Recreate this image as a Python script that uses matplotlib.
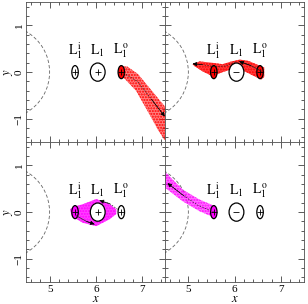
import matplotlib
matplotlib.use("Agg")
import matplotlib.pyplot as plt
from matplotlib.patches import Arc, Ellipse, Polygon
from matplotlib.ticker import MultipleLocator

plt.rcParams["font.family"] = ["Liberation Serif", "DejaVu Serif"]
plt.rcParams["mathtext.fontset"] = "stix"

# axis ranges and ticks
x_range = (4.5, 7.5)
y_range = (-1.5, 1.5)
x_ticks = [5, 6, 7]
y_ticks = [-1, 0, 1]

# Lagrange point markers: position, label, ellipse size
lag_x = [5.55, 6.04, 6.55]
lag_labels = ["$\\mathrm{L_1^{\\,i}}$", "$\\mathrm{L_1}$", "$\\mathrm{L_1^{\\,o}}$"]
lag_w = [0.14, 0.32, 0.14]
lag_h = [0.28, 0.39, 0.28]
label_y = 0.46

# dashed Roche lobe arc of the companion
arc_cx, arc_cy, arc_r = 4.0, 0.0, 1.0

# stream outlines (upper edge then lower edge)
tl_up_x = [6.50, 6.68, 6.91, 7.21, 7.52]
tl_up_y = [0.12, 0.12, -0.04, -0.40, -0.77]
tl_lo_x = [7.52, 7.35, 7.15, 6.87, 6.62, 6.50]
tl_lo_y = [-1.50, -1.25, -0.89, -0.40, -0.14, -0.06]
tl_path_x = [6.60, 6.90, 7.20, 7.49]
tl_path_y = [-0.02, -0.20, -0.58, -0.95]

tr_up_x = [6.64, 6.54, 6.30, 6.11, 5.90, 5.74, 5.52, 5.24, 5.09]
tr_up_y = [0.10, 0.14, 0.24, 0.27, 0.22, 0.17, 0.20, 0.23, 0.17]
tr_lo_x = [5.13, 5.30, 5.52, 5.74, 6.04, 6.25, 6.45, 6.58, 6.64]
tr_lo_y = [0.13, 0.02, -0.09, 0.00, 0.09, 0.00, -0.10, -0.16, -0.10]
tr_path1_x = [6.58, 6.35, 6.10]
tr_path1_y = [0.02, 0.14, 0.23]
tr_path2_x = [6.02, 5.80, 5.55, 5.30, 5.09]
tr_path2_y = [0.22, 0.13, 0.12, 0.16, 0.18]

bl_up_x = [5.44, 5.55, 5.72, 6.01, 6.30, 6.44]
bl_up_y = [0.06, 0.12, 0.17, 0.28, 0.17, 0.06]
bl_lo_x = [6.44, 6.30, 6.01, 5.72, 5.48]
bl_lo_y = [-0.04, -0.15, -0.30, -0.23, -0.09]
bl_path1_x = [6.47, 6.30, 6.08]
bl_path1_y = [0.06, 0.18, 0.25]
bl_path2_x = [5.58, 5.80, 5.97]
bl_path2_y = [-0.08, -0.20, -0.26]

br_up_x = [5.62, 5.57, 5.24, 4.88, 4.50]
br_up_y = [0.08, 0.13, 0.27, 0.48, 0.86]
br_lo_x = [4.50, 4.88, 5.24, 5.57, 5.62]
br_lo_y = [0.52, 0.23, 0.02, -0.12, -0.08]
br_path_x = [5.55, 5.20, 4.90, 4.55]
br_path_y = [0.00, 0.15, 0.35, 0.62]

RED = "#ff0000"
MAGENTA = "#ff00ff"


def draw_stream(ax, ux, uy, lx, ly, color, alpha):
    pts = list(zip(ux + lx, uy + ly))
    ax.add_patch(Polygon(pts, closed=True, facecolor=color, alpha=alpha,
                         edgecolor="none", zorder=2))
    ax.add_patch(Polygon(pts, closed=True, facecolor="none", edgecolor=color,
                         hatch="......", lw=0, zorder=2))


def draw_path(ax, xs, ys, ls="-"):
    ax.plot(xs, ys, color="0.15", lw=0.5, ls=ls, zorder=4)
    ax.annotate("", xy=(xs[-1], ys[-1]), xytext=(xs[-2], ys[-2]),
                arrowprops=dict(arrowstyle="-|>", color="k", lw=0.5,
                                mutation_scale=6, shrinkA=0, shrinkB=0),
                annotation_clip=False, zorder=5)


def draw_base(ax, fills, mid_marker):
    ax.add_patch(Arc((arc_cx, arc_cy), 2 * arc_r, 2 * arc_r, theta1=-62, theta2=62,
                     color="0.4", lw=0.6, ls=(0, (4, 2.5)), zorder=1))
    for i in range(3):
        ax.add_patch(Ellipse((lag_x[i], 0), lag_w[i], lag_h[i], facecolor=fills[i],
                             edgecolor="k", lw=0.9, zorder=3))
        marker = mid_marker if i == 1 else "+"
        ax.plot(lag_x[i], 0, marker=marker, color="k", ms=5, mew=0.6, zorder=3)
        ax.text(lag_x[i], label_y, lag_labels[i], ha="center", va="center",
                fontsize=10, zorder=3)


fig = plt.figure(figsize=(3.08, 3.04), dpi=100)
left, bottom, w, h = 0.086, 0.072, 0.4505, 0.4605
axes = {
    "tl": fig.add_axes([left, bottom + h, w, h]),
    "tr": fig.add_axes([left + w, bottom + h, w, h]),
    "bl": fig.add_axes([left, bottom, w, h]),
    "br": fig.add_axes([left + w, bottom, w, h]),
}

for key, ax in axes.items():
    ax.set_xlim(*x_range)
    ax.set_ylim(*y_range)
    ax.xaxis.set_minor_locator(MultipleLocator(0.2))
    ax.yaxis.set_minor_locator(MultipleLocator(0.2))
    ax.set_xticks(x_ticks)
    ax.set_yticks(y_ticks)
    ax.tick_params(which="both", direction="in", top=True, right=True,
                   width=0.6, labelsize=8, color="0.25")
    ax.tick_params(which="major", length=4)
    ax.tick_params(which="minor", length=2)
    for s in ax.spines.values():
        s.set_linewidth(0.6)
        s.set_color("0.3")
    if key in ("tl", "tr"):
        ax.tick_params(labelbottom=False)
    else:
        ax.set_xlabel("$x$", fontsize=9, labelpad=-1)
        ax.tick_params(axis="x", pad=2)
    if key in ("tr", "br"):
        ax.tick_params(labelleft=False)
    else:
        ax.set_ylabel("$y$", fontsize=9, labelpad=0)
        for lab in ax.get_yticklabels():
            lab.set_rotation(90)
            lab.set_va("center")
        ax.tick_params(axis="y", pad=2)

ax = axes["tl"]
draw_stream(ax, tl_up_x, tl_up_y, tl_lo_x, tl_lo_y, RED, 0.5)
draw_base(ax, ["white", "white", RED], "+")
draw_path(ax, tl_path_x, tl_path_y, ls=(0, (2, 2)))

ax = axes["tr"]
draw_stream(ax, tr_up_x, tr_up_y, tr_lo_x, tr_lo_y, RED, 0.75)
draw_base(ax, [RED, "white", RED], "_")
draw_path(ax, tr_path1_x, tr_path1_y)
draw_path(ax, tr_path2_x, tr_path2_y, ls=(0, (2, 2)))

ax = axes["bl"]
draw_stream(ax, bl_up_x, bl_up_y, bl_lo_x, bl_lo_y, MAGENTA, 0.75)
draw_base(ax, [MAGENTA, "white", "white"], "+")
draw_path(ax, bl_path1_x, bl_path1_y, ls=(0, (2, 2)))
draw_path(ax, bl_path2_x, bl_path2_y)

ax = axes["br"]
draw_stream(ax, br_up_x, br_up_y, br_lo_x, br_lo_y, MAGENTA, 0.55)
draw_base(ax, [MAGENTA, "white", "white"], "_")
draw_path(ax, br_path_x, br_path_y, ls=(0, (2, 2)))

fig.savefig("out.png", dpi=100)
